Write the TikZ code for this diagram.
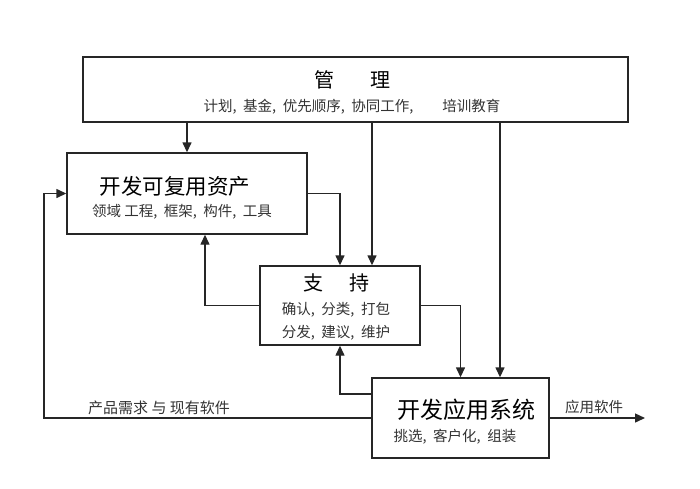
\documentclass[tikz,border=0pt]{standalone}
\usepackage{fontspec}
\setmainfont{Noto Sans CJK SC}
\usetikzlibrary{positioning, arrows.meta}
\newcommand{\csep}{,\hspace{0.45em}}

\begin{document}
\begin{tikzpicture}[x=1pt, y=-1pt,
    box/.style={rectangle, draw=black!85, line width=1.4pt, inner sep=0pt},
    flow/.style={draw=black!85, line width=1.4pt, -{Triangle[length=10pt, width=9pt]}},
    title/.style={inner sep=0pt, font=\fontsize{20}{24}\selectfont},
    sub/.style={inner sep=0pt, text=black!80, font=\fontsize{14.5}{17}\selectfont}]
            \useasboundingbox (0,0) rectangle (700,488);

            \node[box, minimum width=545pt, minimum height=65pt] (mgmt) at (355.5, 89.5) {};
            \node[box, minimum width=240pt, minimum height=81pt] (reuse) at (187, 193.5) {};
            \node[box, minimum width=160pt, minimum height=79pt] (support) at (340, 305.5) {};
            \node[box, minimum width=177pt, minimum height=80pt] (app) at (460.5, 418) {};

            \node[title] (mgmtT) at (352, 80) {管\hspace{1.8em}理};
            \node[sub] (mgmtS) at (352, 107) {计划\csep 基金\csep 优先顺序\csep 协同工作,\hspace{2em}培训教育};
            \node[title, font=\fontsize{21.5}{24}\selectfont] (reuseT) at (175, 186) {开发可复用资产};
            \node[sub] (reuseS) at (182, 212) {领域 工程\csep 框架\csep 构件\csep 工具};
            \node[title] (supportT) at (336, 283) {支\hspace{1.3em}持};
            \node[sub] (supportS1) at (336, 310) {确认\csep 分类\csep 打包};
            \node[sub] (supportS2) at (336, 333) {分发\csep 建议\csep 维护};
            \node[title, font=\fontsize{23}{26}\selectfont] (appT) at (466, 410) {开发应用系统};
            \node[sub] (appS) at (455, 437) {挑选\csep 客户化\csep 组装};

            \coordinate (back) at (44, 418);
            \coordinate (out) at (645, 418);

            \draw[flow] (mgmt.south -| reuse.north) -- (reuse.north);
            \draw[flow] ([xshift=32pt]support.north |- mgmt.south) -- ([xshift=32pt]support.north);
            \draw[flow] ([xshift=39.5pt]app.north |- mgmt.south) -- ([xshift=39.5pt]app.north);
            \draw[flow] (reuse.east) -| (support.north);
            \draw[flow] (support.west) -| ([xshift=18pt]reuse.south);
            \draw[flow] (support.east) -| (app.north);
            \draw[flow] ([yshift=24pt]app.west) -| (support.south);
            \draw[flow] (app.west) -- (back) |- (reuse.west);
            \draw[flow] (app.east) -- (out);

            \node[sub, font=\fontsize{15}{17}\selectfont] (needs) at (159, 408) {产品需求 与 现有软件};
            \node[sub] (product) at (594, 407) {应用软件};
        \end{tikzpicture}
\end{document}
